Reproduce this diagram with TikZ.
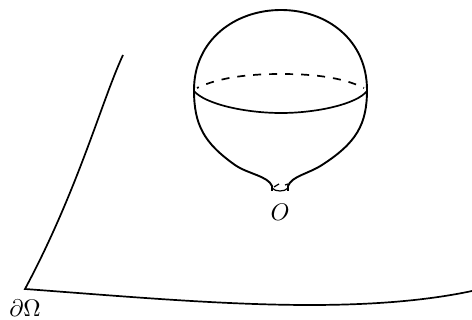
\documentclass[tikz,border=0pt]{standalone}
\begin{document}
\begin{tikzpicture}[x=1pt, y=-1pt, line width=1.9pt]
    \useasboundingbox (0,0) rectangle (472,320);
    \tikzset{rim/.style={line width=1.7pt}, mark label/.style={scale=2.4, inner sep=0pt}}

    % domain boundary
    \draw[line width=1.7pt] (123,55) .. controls (102,100) and (78,190) .. (25,289)
        .. controls (120,296) and (220,305) .. (310,305)
        .. controls (370,305) and (425,301) .. (472,291);

    % bubble
    \draw (194,90) .. controls (194,40) and (235,10) .. (281,10)
        .. controls (327,10) and (367,40) .. (367,90)
        .. controls (367,125) and (356,143) .. (322,165)
        .. controls (308,174) and (292,176) .. (288,186) -- (288,191);
    \draw (194,90) .. controls (194,125) and (204,143) .. (235,165)
        .. controls (248,174) and (268,176) .. (272,186) -- (272,191);

    % equator
    \draw[rim] (194,91) .. controls (205,104) and (245,113) .. (281,113)
        .. controls (317,113) and (357,104) .. (367,91);
    \draw[rim, dash pattern=on 8pt off 8pt, dash phase=6pt] (197,88) .. controls (220,77) and (250,74) .. (281,74)
        .. controls (312,74) and (342,77) .. (364,88);

    % neck
    \draw[line width=1.2pt] (272,188) .. controls (275,192) and (285,192) .. (288,188);
    \draw[line width=1.2pt] (274,187) -- (279,184);
    \draw[line width=1.2pt] (285,185) -- (288,184);

    \node[mark label] (origin) at (280,212) {$O$};
    \node[mark label] (corner) at (25,308) {$\partial\Omega$};
\end{tikzpicture}
\end{document}
